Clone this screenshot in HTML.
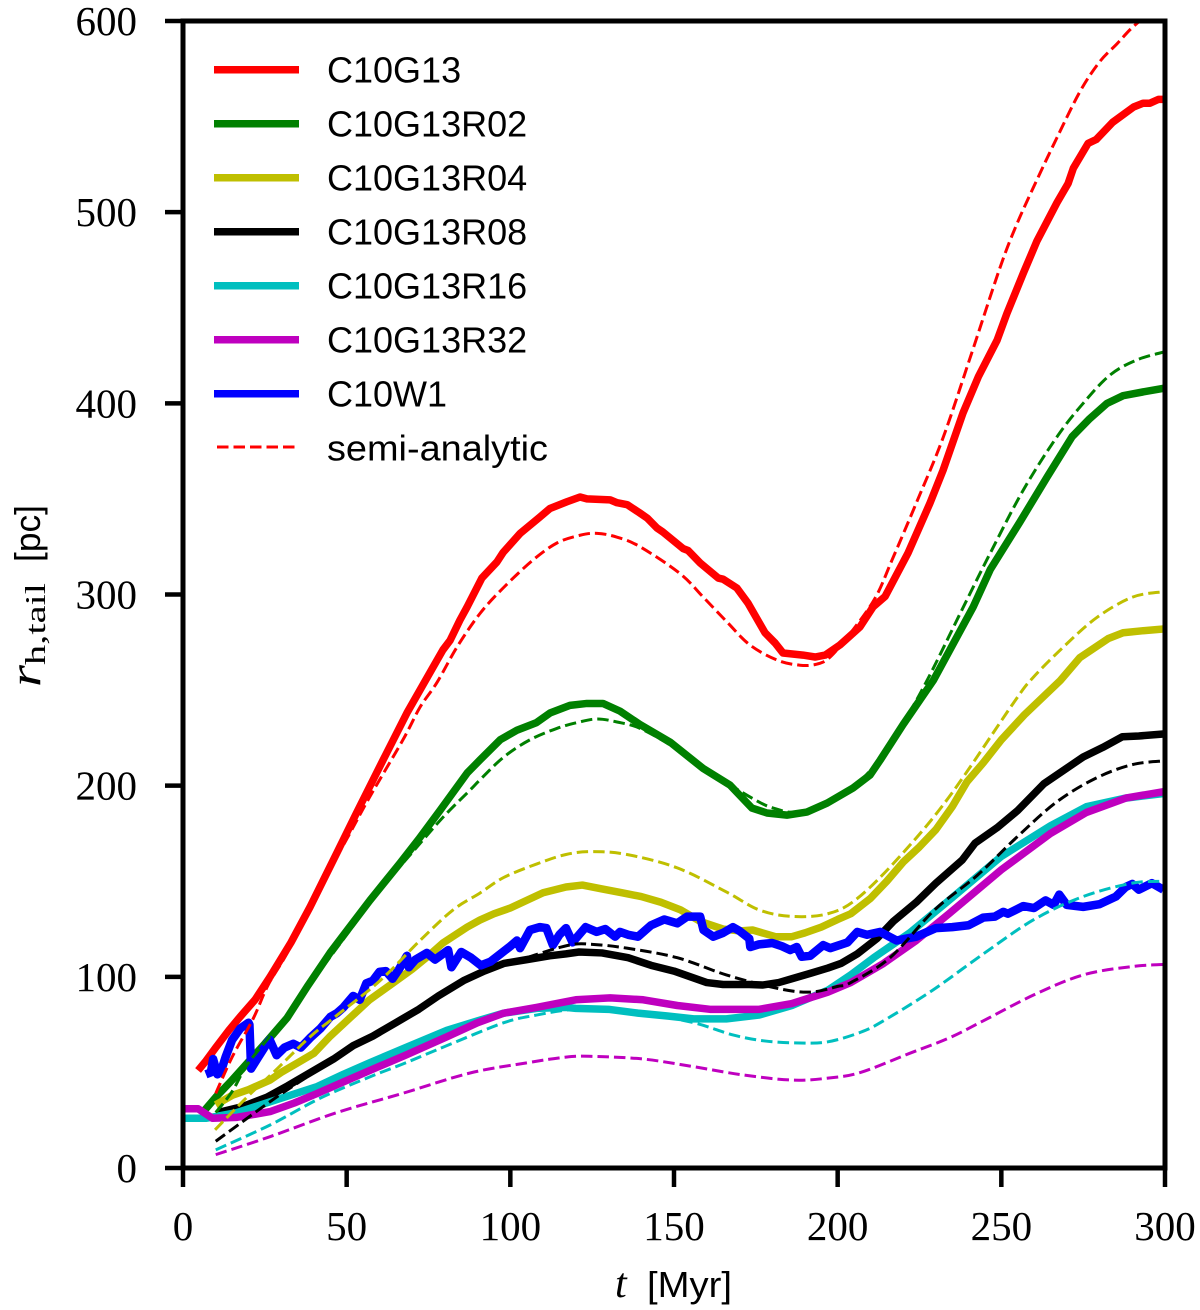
<!DOCTYPE html>
<html lang="en">
<head>
<meta charset="utf-8">
<title>Half-mass radius of tidal tails</title>
<style>
html,body{margin:0;padding:0;background:#fff;}
svg{display:block;}
.tick{font-family:"Liberation Serif",serif;font-size:41px;fill:#000;}
.leg{font-family:"Liberation Sans",sans-serif;font-size:36px;fill:#000;}
</style>
</head>
<body>
<svg id="chart" xmlns="http://www.w3.org/2000/svg" width="1200" height="1310" viewBox="0 0 1200 1310">
<defs><clipPath id="plot-clip"><rect x="183" y="21" width="982" height="1147"/></clipPath></defs>
<rect x="0" y="0" width="1200" height="1310" fill="#fff"/>
<g id="marks" clip-path="url(#plot-clip)"></g>
<g id="axes"></g>
<g id="legend"></g>
<text x="615" y="1297" font-family="Liberation Serif, serif" font-style="italic" font-size="42">t</text>
<text x="647" y="1297" font-family="Liberation Sans, sans-serif" font-size="36" textLength="85" lengthAdjust="spacingAndGlyphs">[Myr]</text>
<text transform="translate(40,687) rotate(-90)" font-family="Liberation Serif, serif" font-style="italic" font-size="44" textLength="22" lengthAdjust="spacingAndGlyphs">r</text>
<text transform="translate(45,665) rotate(-90)" font-family="Liberation Serif, serif" font-size="28" textLength="82" lengthAdjust="spacingAndGlyphs">h,tail</text>
<text transform="translate(40,562) rotate(-90)" font-family="Liberation Sans, sans-serif" font-size="36" textLength="57" lengthAdjust="spacingAndGlyphs">[pc]</text>
</svg>
<script>
const xTicks = [0, 50, 100, 150, 200, 250, 300];
const yTicks = [0, 100, 200, 300, 400, 500, 600];

const c10g13Time = [4.6,7,10,14,17.4,22,26.6,33,38.8,47,53,61,68.4,76.4,79.4,81.6,84.6,86.8,91.3,95.9,97.8,103,109,112.1,117.3,121.3,123.4,130.5,132.6,135.7,139.6,141.8,144.8,146.6,152.8,154.3,158,163.5,165,169.2,172.6,177.8,180.9,183.3,189.4,193.1,196.2,200.7,206.8,210.8,214.5,221.5,228.2,232.2,238.3,243,248.7,251.7,256.7,260.9,267,270.4,272,276.5,279,284,290.4,293.3,295.4,298,300];
const c10g13Radius = [51,56,63,72,79,88,100,118,136.5,164.8,185.7,213,238,262,271,276,286.6,293.5,308.6,317,322,332,340.5,345,348.5,351,350,349.5,348,347,342.6,340,334.8,332.7,324,323,316.5,308.6,308,303.4,295.5,280,274.6,269.4,268.3,267.3,268.3,273.6,283,293.5,299,321.7,347.8,365,395,414,433,447,468,485,505,515,523,536,538,547,555,557,557,559,559];

const c10g13r02Time = [6,10,15,20.5,25,31.8,38,44.9,50,57.1,66.3,72,78.5,86.8,90.7,96.9,102,108,112.1,118.2,123.4,128.3,133.5,139.6,148.8,158.9,167.1,173.8,178.4,184.5,190.6,196.8,204.7,209.9,213,220,229.2,241.4,246.6,255.7,264,271.6,277,282.3,287.2,293.4,300];
const c10g13r02Radius = [29,37,46,56.5,65,78.5,95,112.5,124,140,159.5,172,187,206.6,213.4,224,229,233,238,242,243,243,239,232,222.8,209,200.3,188.3,185.7,184.6,186.2,190.9,198.8,205.6,213.4,232,255,293.5,313,338,361.5,382.5,392,400,404,406,408];

const c10g13r04Time = [10,15,20,26.6,30,35,40,45,51,57,64.2,70,75,79.4,86.8,90.7,95,100,105,110,117,122,128,134,140,146,152,158,165,170,174,181,186,190,195,200,204,210,215,220,225,230,235,239.5,244.5,250,257,268,274,282.7,287.2,293,300];
const c10g13r04Radius = [33,38,41,46,50,55,60,69,78.5,88,96.8,104,111,117.7,126,129.7,133,136,140,144,147,148,146,144,142,139,135,129,125,124,124.5,121,121,123,126,130,133,141,150,160,168,177,189,202,212,224,237,255,267,277,280,281,282];

const c10g13r08Time = [10.7,18,25.6,32,39,46,52,58,65,72,78,85.7,92,98,105,112,117,121,128,136,143,150,155,160,165,169,173,177,182,186,192,197,201,206,212,217,224,230,238,242,248.7,255,263,269,275,281,287,292,299.5];
const c10g13r08Radius = [29,32,37,43,50,57,64,69,76,83,90,98,103,107,109,111,112,113,112.5,110,106,103,100,97,96,96,96,95.7,97,99,102,104.6,107,112,120,129,139,149,161,170,178,187,201,208,215,220,225.6,226,227];

const c10g13r16Time = [0,7,16.5,26.6,41,49,57,68,80.6,90,98,108,117,120,130,139,148,156,166,176,186,197,204,211,222,234,250,265,276,288,300];
const c10g13r16Radius = [26,26,29,34.6,42.6,49,55,63,72,77,81,83.5,84,83.5,83,81,79.5,78,78,80,85,93,101,110,123,140,163,179,189,193.5,196];

const c10g13r32Time = [0,4.6,9,16.5,26.6,34,41,49,57,68,80.6,90,98,108,117,120,130.5,140.6,151,161,170,176,186,197,204,214,224,234,250,265,276,288,300];
const c10g13r32Radius = [31,31,26,26.5,29.5,34,39,45,51,59,68.6,76,81,84,87,88,89,88,85,83,83,83,86,92,97,107,119,133,156,175,186,193.5,197];

const c10w1Time = [7,8.5,9.2,10.5,11.5,13,15,17.5,20,20.3,20.8,23,25.6,26.5,28.6,31,33.7,36,38.8,42,45,47,49,52,54,56,58,60,62,64,66,68.4,69,71,74.5,77,81,82,85,88,91,94,97,100,102,103,106,109,111,113,115,117,119,121,123,126.4,129,132,133.5,136,139,143,147,151,154,158,159,162,165,168,170,173,173.3,176,180,183,185.5,187.5,189,191.6,195.6,197.7,203,206,209,213,218,221,224,230,235,240,244.5,248,250.6,252,256.7,260,263.5,266,267.7,270,275,280,285,288,290,292,296,299.5];
const c10w1Radius = [49,50,57,49,50,58,67,73,76,75,52,58,65,67,59,63,65,63,68,73,79,81,84,90,88,96.6,98,102.6,103,99,104,111,105,109,112.5,109,114,105,113,110,106,108,112,116,119,115,124.5,126,125.5,116.6,122,125.5,118,122,126,123.5,125,121,123.5,122,121,127,130,128,131.5,131.5,124.5,121,123,126,124,120,115.6,117,117.7,116,114,115.6,110.5,111,116.6,115,118,123.5,122,123.5,119,120,121,125.5,126,127,131,131.5,134,133,137,136,140,137.6,143,137.6,136.6,138,142,147,148.6,145.6,149,145.6];

const c10g13ModelTime = [10,15,21.4,26,32,40,50,57,67.2,72.4,77.6,83.7,90.7,97.8,106.9,114.3,121.3,126.5,132.6,139.6,151.8,158.9,166.2,173.2,181.5,188.5,193.7,197.7,204,211.4,216.6,224.3,232.2,240.5,249.6,254.8,260.9,267,274,280,285.3,290.9,300];
const c10g13ModelRadius = [39,58,78,95.7,113,141,172,194,224,241,254,272.5,290,303.4,318,327,331,332,330,325,311,298.7,285.6,273.6,265.7,263,263.6,267.3,280,298,318,349,382,424,471,494,517,539,563,578.6,588,598,610];

const c10g13r02ModelTime = [10,15,20,30,40,50,60,70,79.5,87.7,90.7,98,106,114.3,120.4,126.5,132.6,139.6,150,160,173.8,180.3,188,198.6,210,220,227.6,237.4,246.6,256.7,267,275,283.2,291.4,300];
const c10g13r02ModelRadius = [29,40,55,76,99,122,145,165,183.6,197.7,203,215,224,230,233,234.9,233.3,230,220,208,193.5,188.3,186,191.5,208,233,256,290,321.6,354.6,382.5,400,414.8,422.7,427];

const c10g13r04ModelTime = [9.8,19.5,27.6,38.8,46.4,60.2,72.4,82.5,90.7,98,108,117,125,135.6,151,166,176,186,197,206,219,234,253.6,259.4,269,279.2,290.2,300];
const c10g13r04ModelRadius = [20,37,50,68.6,79,98,119,135,143.8,152,159,164,165.5,164,157,144.4,135,131.6,133,141,163,194,243,256,272.6,288,298.7,301.5];

const c10g13r08ModelTime = [10,18,28.5,40,52,65,78,90,105,118,125,135.6,151,166,181.5,191.6,200,204,216,229.6,242.6,254.7,267,279,290,300];
const c10g13r08ModelRadius = [14,24,37,50,64,77,90,101,110,116.6,117,115,110,101,94,92,95,97,110,135,153,173,191.6,204,211,213];

const c10g13r16ModelTime = [10,26.6,42,57,68,80.6,98,108,117,125,140,156,168,178,188.5,197,207,214,229,244.5,260,275,290,300];
const c10g13r16ModelRadius = [9.5,22.5,36.6,47.6,55,64,76,80,82.6,83.5,81,76,69.6,66.4,65.4,66,71,77,93,112,130,142,149,150];

const c10g13r32ModelTime = [10,26.6,47,67,87.7,105,117,125,140.6,156,171,186,197,207,222,234,244.5,260,275,290,300];
const c10g13r32ModelRadius = [7,16.4,29,39,49.7,55,58,58.4,57,53,48.7,46,47,50,60,68,77,90.6,101,105.4,106.5];

const legendLabels = ["C10G13","C10G13R02","C10G13R04","C10G13R08","C10G13R16","C10G13R32","C10W1","semi-analytic"];

const NS = "http://www.w3.org/2000/svg";
const X0 = 183, X1 = 1165, Y0 = 1168, Y1 = 21;
function xScale(t){ return X0 + (t - 0) / 300 * (X1 - X0); }
function yScale(r){ return Y0 - (r - 0) / 600 * (Y0 - Y1); }

function polyPath(ts, rs){
  return ts.map((t, i) => (i ? "L" : "M") + xScale(t).toFixed(2) + " " + yScale(rs[i]).toFixed(2)).join("");
}
function smoothPath(ts, rs){
  const p = ts.map((t, i) => [xScale(t), yScale(rs[i])]);
  let d = "M" + p[0][0].toFixed(2) + " " + p[0][1].toFixed(2);
  for (let i = 0; i < p.length - 1; i++) {
    const a = p[Math.max(i - 1, 0)], b = p[i], c = p[i + 1], e = p[Math.min(i + 2, p.length - 1)];
    const c1x = b[0] + (c[0] - a[0]) / 6, c1y = b[1] + (c[1] - a[1]) / 6;
    const c2x = c[0] - (e[0] - b[0]) / 6, c2y = c[1] - (e[1] - b[1]) / 6;
    d += "C" + c1x.toFixed(2) + " " + c1y.toFixed(2) + " " + c2x.toFixed(2) + " " + c2y.toFixed(2) + " " + c[0].toFixed(2) + " " + c[1].toFixed(2);
  }
  return d;
}

const marks = document.getElementById("marks");
function addSolid(name, color, ts, rs, width){
  const el = document.createElementNS(NS, "path");
  
  
  el.setAttribute("d", polyPath(ts, rs));
  el.setAttribute("fill", "none");
  el.setAttribute("stroke", color);
  el.setAttribute("stroke-width", width);
  el.setAttribute("stroke-linejoin", "round");
  el.setAttribute("stroke-linecap", "butt");
  marks.appendChild(el);
}
function addDashed(name, color, ts, rs){
  const el = document.createElementNS(NS, "path");
  
  
  el.setAttribute("d", smoothPath(ts, rs));
  el.setAttribute("fill", "none");
  el.setAttribute("stroke", color);
  el.setAttribute("stroke-width", "3");
  el.setAttribute("stroke-dasharray", "11.5 5");
  marks.appendChild(el);
}

addSolid("line-c10g13", "#ff0000", c10g13Time, c10g13Radius, "7.5");
addSolid("line-c10g13r02", "#008000", c10g13r02Time, c10g13r02Radius, "7.5");
addSolid("line-c10g13r04", "#bfbf00", c10g13r04Time, c10g13r04Radius, "7.5");
addSolid("line-c10g13r08", "#000000", c10g13r08Time, c10g13r08Radius, "7.5");
addSolid("line-c10g13r16", "#00bfbf", c10g13r16Time, c10g13r16Radius, "7.5");
addSolid("line-c10g13r32", "#bf00bf", c10g13r32Time, c10g13r32Radius, "7.5");
addSolid("line-c10w1", "#0000ff", c10w1Time, c10w1Radius, "8.5");
addDashed("model-c10g13", "#ff0000", c10g13ModelTime, c10g13ModelRadius);
addDashed("model-c10g13r02", "#008000", c10g13r02ModelTime, c10g13r02ModelRadius);
addDashed("model-c10g13r04", "#bfbf00", c10g13r04ModelTime, c10g13r04ModelRadius);
addDashed("model-c10g13r08", "#000000", c10g13r08ModelTime, c10g13r08ModelRadius);
addDashed("model-c10g13r16", "#00bfbf", c10g13r16ModelTime, c10g13r16ModelRadius);
addDashed("model-c10g13r32", "#bf00bf", c10g13r32ModelTime, c10g13r32ModelRadius);

const axes = document.getElementById("axes");
xTicks.forEach(v => {
  const tick = document.createElementNS(NS, "line");
  
  
  tick.setAttribute("x1", xScale(v));
  tick.setAttribute("x2", xScale(v));
  tick.setAttribute("y1", Y0);
  tick.setAttribute("y2", 1187);
  tick.setAttribute("stroke", "#000");
  tick.setAttribute("stroke-width", "4.5");
  axes.appendChild(tick);
  const label = document.createElementNS(NS, "text");
  
  
  label.setAttribute("class", "tick");
  label.setAttribute("x", xScale(v));
  label.setAttribute("y", 1240);
  label.setAttribute("text-anchor", "middle");
  label.textContent = String(v);
  axes.appendChild(label);
});
yTicks.forEach(v => {
  const tick = document.createElementNS(NS, "line");
  
  
  tick.setAttribute("x1", 165);
  tick.setAttribute("x2", X0);
  tick.setAttribute("y1", yScale(v));
  tick.setAttribute("y2", yScale(v));
  tick.setAttribute("stroke", "#000");
  tick.setAttribute("stroke-width", "4.5");
  axes.appendChild(tick);
  const label = document.createElementNS(NS, "text");
  
  
  label.setAttribute("class", "tick");
  label.setAttribute("x", 137);
  label.setAttribute("y", yScale(v) + 14);
  label.setAttribute("text-anchor", "end");
  label.textContent = String(v);
  axes.appendChild(label);
});
const frame = document.createElementNS(NS, "rect");


frame.setAttribute("x", X0);
frame.setAttribute("y", Y1);
frame.setAttribute("width", X1 - X0);
frame.setAttribute("height", Y0 - Y1);
frame.setAttribute("fill", "none");
frame.setAttribute("stroke", "#000");
frame.setAttribute("stroke-width", "5");
axes.appendChild(frame);

const legend = document.getElementById("legend");
const legendColors = ["#ff0000","#008000","#bfbf00","#000000","#00bfbf","#bf00bf","#0000ff","#ff0000"];
legendLabels.forEach((name, i) => {
  const rowY = 69.7 + i * 54;
  const dashed = i === 7;
  const sample = document.createElementNS(NS, "line");
  
  
  sample.setAttribute("x1", dashed ? 217 : 214);
  sample.setAttribute("x2", dashed ? 295.5 : 299);
  sample.setAttribute("y1", dashed ? 447 : rowY);
  sample.setAttribute("y2", dashed ? 447 : rowY);
  sample.setAttribute("stroke", legendColors[i]);
  sample.setAttribute("stroke-width", dashed ? "3" : "7.5");
  if (dashed) sample.setAttribute("stroke-dasharray", "11.5 5");
  legend.appendChild(sample);
  const text = document.createElementNS(NS, "text");
  
  
  text.setAttribute("class", "leg");
  text.setAttribute("x", 327);
  text.setAttribute("y", rowY + 13);
  if (dashed) {
    text.setAttribute("textLength", "221");
    text.setAttribute("lengthAdjust", "spacingAndGlyphs");
  }
  text.textContent = name;
  legend.appendChild(text);
});
</script>
</body>
</html>
